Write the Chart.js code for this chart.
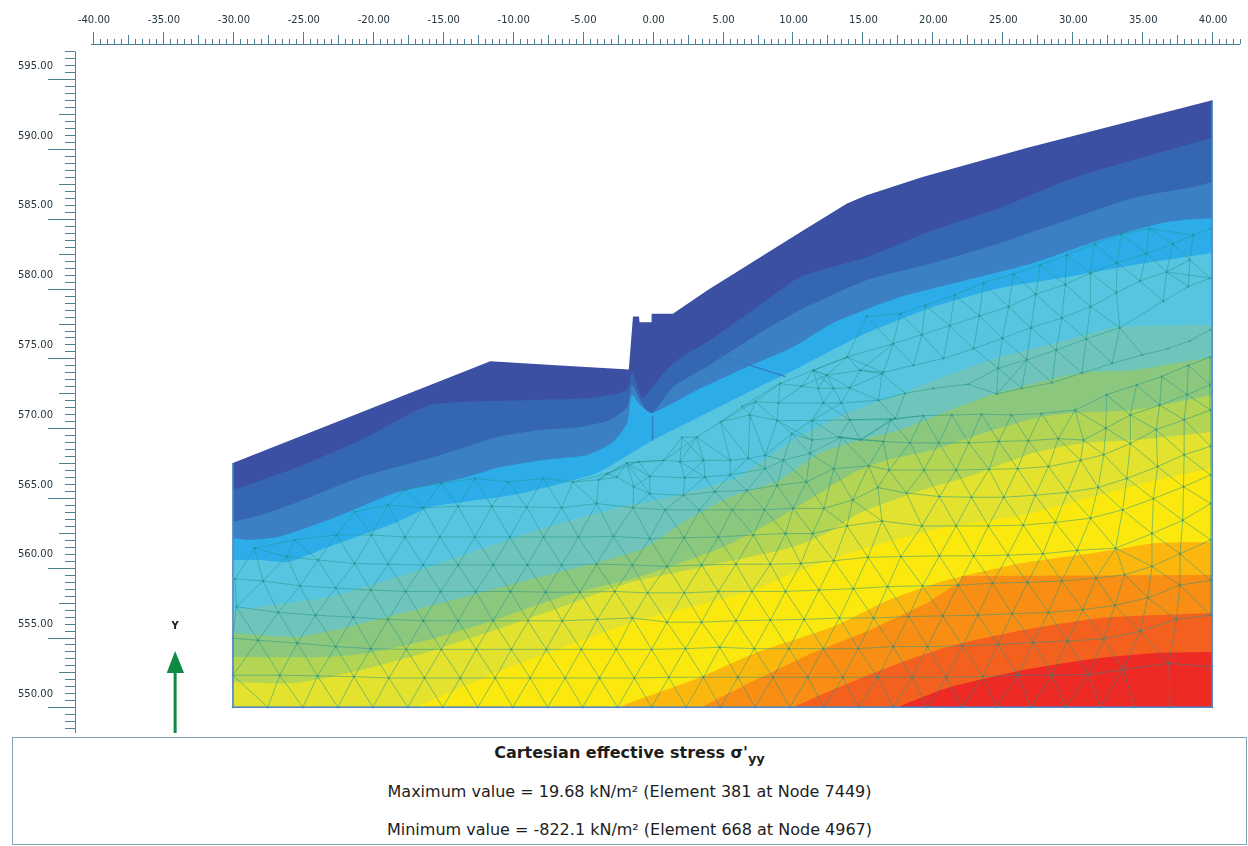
<!DOCTYPE html>
<html>
<head>
<meta charset="utf-8">
<title>Cartesian effective stress</title>
<script src="https://cdn.jsdelivr.net/npm/chart.js@4/dist/chart.umd.min.js"></script>
<style>
  html, body { margin: 0; padding: 0; background: #fff; }
  #wrap { position: relative; width: 1248px; height: 846px; overflow: hidden; }
  canvas { position: absolute; left: 0; top: 0; }
  #box { position: absolute; left: 12px; top: 737px; width: 1233px; height: 106px; border: 1.5px solid #7fa6b5; background: #fff; }
  #box div { position: absolute; left: 0; width: 100%; text-align: center; color: #1d1d1d; font-family: "DejaVu Sans", sans-serif; font-size: 16px; white-space: nowrap; }
  #box sub { font-size: 13px; vertical-align: -5px; line-height: 0; }
</style>
</head>
<body>
<div id="wrap">
  <canvas id="stressChart" width="1248" height="846"></canvas>
  <div id="box">
    <div style="top:5px;font-weight:bold">Cartesian effective stress σ'<sub>yy</sub></div>
    <div style="top:44px">Maximum value = 19.68 kN/m² (Element 381 at Node 7449)</div>
    <div style="top:82px">Minimum value = -822.1 kN/m² (Element 668 at Node 4967)</div>
  </div>
</div>
<script>
// axis ticks
const xTickValues = [-40, -35, -30, -25, -20, -15, -10, -5, 0, 5, 10, 15, 20, 25, 30, 35, 40];
const xTickLabels = ['-40.00', '-35.00', '-30.00', '-25.00', '-20.00', '-15.00', '-10.00', '-5.00', '0.00', '5.00', '10.00', '15.00', '20.00', '25.00', '30.00', '35.00', '40.00'];
const yTickValues = [595, 590, 585, 580, 575, 570, 565, 560, 555, 550];
const yTickLabels = ['595.00', '590.00', '585.00', '580.00', '575.00', '570.00', '565.00', '560.00', '555.00', '550.00'];

// ground surface, then the lower edge of each stress band
const surfaceX = [-30, -11.6, -6.6, -1.7, -1.4, -0.97, -0.93, -0.1, -0.07, 1.45, 3.95, 10.5, 13.9, 15.3, 19.3, 26.8, 40];
const surfaceY = [567.5, 574.8, 574.5, 574.2, 578, 578, 577.6, 577.6, 578.2, 578.2, 579.9, 584, 586.1, 586.7, 588, 590.1, 593.5];
const edge1X = [-30, -25.55, -20.84, -15.9, -8.76, -4.47, -1.82, -1.47, -0.75, -0.18, 1.47, 4.11, 7.68, 10.54, 15.33, 20.05, 24.84, 29.63, 34.35, 40];
const edge1Y = [565.57, 567.15, 569.15, 571.66, 572.02, 572.16, 572.74, 574.03, 572.16, 572.74, 574.67, 576.32, 578.83, 580.84, 582.27, 584.2, 585.78, 587.79, 589.22, 590.8];
const edge2X = [-30, -27.98, -25.55, -20.84, -15.9, -13.55, -11.12, -8.04, -5.18, -3.04, -1.82, -1.47, -0.89, -0.18, 1.47, 4.11, 7.68, 10.54, 15.33, 20.05, 24.84, 29.63, 34.35, 38.64, 40];
const edge2Y = [563.28, 563.78, 564.64, 566.5, 567.86, 568.58, 569.37, 569.87, 570.09, 570.59, 571.52, 573.1, 572.02, 570.95, 572.96, 574.54, 576.83, 578.47, 580.62, 581.84, 583.27, 584.92, 586.5, 587.28, 587.64];
const edge3X = [-30, -28.92, -26.77, -23.2, -18.41, -15.9, -13.55, -11.12, -7.83, -4.68, -2.82, -1.82, -1.47, -0.89, -0.04, 3.18, 6.75, 9.61, 10.54, 12.9, 17.69, 22.48, 27.2, 31.99, 36.78, 40];
const edge3Y = [562.13, 561.99, 562.2, 563.42, 565.36, 565.93, 566.43, 567.15, 567.72, 568.08, 569.01, 570.37, 572.38, 571.66, 571.09, 572.74, 574.39, 575.6, 576.1, 577.54, 579.4, 580.62, 581.84, 583.49, 584.78, 585.06];
const edge4X = [-30, -27.98, -26.05, -23.2, -18.41, -15.9, -13.55, -9.97, -6.4, -3.97, -2.32, 0.04, 2.47, 7.18, 10.54, 15.33, 20.05, 24.84, 29.63, 34.35, 40];
const edge4Y = [560.55, 560.55, 560.41, 561.49, 563.21, 564.35, 564.71, 565.21, 566.07, 566.79, 567.72, 569.15, 570.37, 572.74, 574.39, 576.83, 578.69, 580.05, 580.84, 581.7, 582.56];
const edge5X = [-30, -23.2, -16.05, -8.9, -2.32, 1.25, 6.04, 10.04, 13.9, 17.91, 20.77, 24.84, 29.63, 33.2, 40];
const edge5Y = [556.97, 557.9, 560.05, 562.49, 564.35, 565.07, 566.5, 569.15, 571.09, 572.52, 573.67, 575.1, 576.32, 577.25, 577.4];
const edge6X = [-30, -25.55, -22.7, -19.84, -16.98, -8.9, -0.89, 2.47, 5.54, 9.11, 11.97, 14.83, 17.69, 21.27, 24.62, 30.56, 34.35, 40];
const edge6Y = [555.32, 555.04, 555.54, 556.26, 556.97, 559.12, 561.27, 563.42, 565.07, 566.29, 568.22, 569.15, 569.87, 571.3, 572.52, 573.96, 574.17, 575.1];
const edge7X = [-30, -23.2, -20.34, -16.05, -11.26, -6.54, -0.54, 5.04, 8.4, 11.97, 14.33, 16.76, 20.05, 24.34, 27.7, 30.06, 34.35, 40];
const edge7Y = [553.6, 553.6, 553.89, 554.82, 556.26, 557.9, 559.48, 561.49, 563.21, 565.36, 566.79, 567.72, 568.44, 569.87, 570.8, 571.09, 571.3, 572.38];
const edge8X = [-30, -25.55, -20.84, -16.05, -11.26, -6.54, -1.75, 4.61, 10.04, 12.47, 14.83, 18.62, 22.91, 27.2, 30.77, 34.35, 40];
const edge8Y = [551.81, 551.74, 552.67, 553.96, 555.54, 557.19, 558.91, 560.27, 561.49, 562.49, 563.92, 565.36, 566.65, 568.22, 568.94, 569.15, 569.73];
const edge9X = [-16.98, -11.26, -6.54, -2.97, -0.89, 7.33, 10.04, 14.83, 19.12, 21.05, 26.48, 31.99, 36.06, 40];
const edge9Y = [550, 552.46, 554.25, 555.54, 556.26, 558.41, 559.62, 561.27, 562.49, 562.92, 563.78, 565.21, 566.29, 567.15];
const edge10X = [-2.39, -0.89, 3.47, 7.33, 12.83, 16.9, 21.05, 26.48, 31.99, 36.06, 40];
const edge10Y = [550, 550.59, 552.17, 553.89, 555.75, 557.69, 559.12, 560.34, 561.13, 561.77, 561.85];
const edge11X = [3.47, 7.33, 11.4, 15.55, 19.62, 21.98, 22.12, 40];
const edge11Y = [550, 551.96, 553.89, 555.54, 557.47, 558.98, 559.41, 559.48];
const edge12X = [10.04, 12.83, 16.9, 21.05, 26.48, 31.99, 36.06, 40];
const edge12Y = [550, 551.24, 552.89, 554.32, 555.54, 556.4, 556.61, 556.76];
const edge13X = [17.48, 21.05, 26.48, 31.99, 36.06, 40];
const edge13Y = [550, 551.38, 552.67, 553.53, 553.89, 553.96];

const bandColors = ['#3b4fa3', '#3566b1', '#3a80c3', '#2cadea', '#57c5e0', '#6fc5bb', '#8cc77e', '#b4d453', '#e2e22f', '#fbe80f', '#fcb70f', '#f98e14', '#f4611f', '#ee2a24'];

// mesh nodes read row by row, bottom to top
const meshRow0 = [[-30,550],[-27.5,550],[-25,550],[-22.5,550],[-20,550],[-17.5,550],[-15,550],[-12.5,550],[-10,550],[-7.5,550],[-5,550],[-2.5,550],[-0.07,550],[2.4,550],[4.86,550],[7.33,550],[9.8,550],[12.26,550],[14.72,550],[17.19,550],[19.65,550],[22.1,550],[24.58,550],[27.05,550],[29.5,550],[32,550],[34.45,550],[37,550],[40,550]];
const meshRow1 = [[-30,552.3],[-26.65,552.3],[-23.95,552.25],[-21.35,552.2],[-18.85,552.1],[-16.3,552.1],[-13.75,552.1],[-11.25,552.1],[-8.75,552.1],[-6.25,552.1],[-3.8,552.1],[-1.3,552.1],[1.16,552.15],[3.63,552.15],[6.1,552.15],[8.6,552.15],[11.1,552.15],[13.6,552.15],[16.1,552.15],[18.55,552.15],[21,552.15],[23.6,552.2],[26.1,552.3],[28.55,552.3],[31.15,552.35],[33.65,552.7],[36.9,553.15],[40,552.9]];
const meshRow2 = [[-30,554.95],[-28.2,554.8],[-25.4,554.6],[-22.65,554.35],[-20.15,554.2],[-17.6,554.15],[-15.1,554.15],[-12.6,554.15],[-10.1,554.15],[-7.6,554.15],[-5.1,554.15],[-2.6,554.15],[-0.07,554.15],[2.34,554.2],[4.8,554.3],[7.27,554.2],[9.74,554.2],[12.2,554.2],[14.7,554.2],[17.2,554.35],[19.65,554.35],[22.17,554.4],[24.7,554.5],[27.2,554.65],[29.65,554.75],[32.25,554.9],[34.85,555.45],[37.45,556.3],[39.9,556.6]];
const meshRow3 = [[-29.75,557.2],[-26.75,556.8],[-24.1,556.6],[-21.4,556.45],[-18.9,556.3],[-16.4,556.2],[-13.9,556.2],[-11.4,556.2],[-8.9,556.2],[-6.45,556.2],[-3.95,556.3],[-1.45,556.4],[1.03,556.1],[3.5,556.1],[5.96,556.2],[8.42,556.25],[10.83,556.3],[13.35,556.4],[15.8,556.4],[18.3,556.5],[20.75,556.55],[23.25,556.6],[25.7,556.7],[28.3,556.8],[30.75,557],[33.05,557.3],[35.4,557.85],[37.7,558.75],[39.9,559.1]];
const meshRow4 = [[-29.85,559.2],[-27.85,559.05],[-25.2,558.7],[-22.65,558.55],[-20.15,558.4],[-17.65,558.3],[-15.15,558.3],[-12.65,558.3],[-10.15,558.3],[-7.65,558.25],[-5.2,558.25],[-2.7,558.3],[-0.35,558.2],[2.26,558.2],[4.7,558.3],[7.1,558.3],[9.5,558.3],[11.9,558.4],[14.35,558.5],[16.8,558.65],[19.3,558.7],[21.85,558.75],[24.3,558.9],[26.8,558.95],[29.25,559.05],[31.7,559.25],[33.75,559.5],[35.7,560.1],[37.7,561],[39.9,562]];
const meshRow5 = [[-28.45,561.4],[-26.15,560.8],[-23.9,560.55],[-21.3,560.3],[-18.9,560.25],[-16.4,560.2],[-13.9,560.2],[-11.4,560.2],[-8.95,560.2],[-6.5,560.2],[-4,560.25],[-1.45,560.2],[1.03,560.1],[3.5,560.2],[5.96,560.25],[8.42,560.25],[10.6,560.3],[12.95,560.5],[15.4,560.75],[17.75,560.8],[20.5,560.85],[22.95,560.85],[25.4,560.9],[27.9,561],[30.35,561.25],[33.1,561.4],[35.7,562.45],[37.9,563.4],[39.9,564.6]];
const meshRow6 = [[-25.6,562],[-22.6,562.35],[-20.1,562.35],[-17.7,562.2],[-15.2,562.2],[-12.7,562.2],[-10.2,562.2],[-7.8,562.2],[-5.3,562.2],[-2.8,562.25],[-0.2,562.1],[2.26,562.15],[4.7,562.2],[7.2,562.35],[9.5,562.45],[11.45,562.45],[13.9,563],[16.4,563.35],[19.25,563],[21.7,563],[24,563],[26.5,563.05],[28.8,563.25],[31.3,563.55],[33.6,564.15],[35.8,564.95],[37.95,565.8],[39.9,566.65]];
const meshRow7 = [[-21.3,564],[-18.9,564.5],[-16.4,564.3],[-13.9,564.4],[-11.5,564.4],[-9,564.35],[-6.5,564.3],[-4,564.6],[-1.4,564.3],[0.9,564.15],[3.35,564.15],[5.7,564.15],[8,564.15],[10.05,564.25],[12.25,564.25],[14.3,564.85],[16.1,565.75],[18.15,565.35],[20.5,565.1],[22.8,565.05],[25.1,565.05],[27.35,565.2],[29.65,565.4],[31.85,565.75],[33.9,566.4],[36.1,567.25],[38,568.1],[39.9,568.7]];
const meshRow8 = [[-17.7,565.6],[-15.1,566.05],[-12.7,566.4],[-10.3,566.15],[-7.8,566.4],[-5.7,566.15],[-3.85,566.3],[-2.55,566.5],[-1.35,565.8],[-0.2,565.3],[2.2,565.2],[4.45,565.45],[6.75,565.55],[8.9,565.9],[11,566.15],[12.95,567.1],[15.45,567.3],[16.9,567],[19.4,567],[21.7,567],[24.05,567.05],[26.1,567.1],[28.3,567.25],[30.6,567.7],[32.25,568.1],[34.15,568.9],[36,569.9],[38,570.6],[39.9,571.3]];
const meshRow9 = [[-3.25,566.75],[-1.85,567.5],[-0.2,566.55],[2.3,566.45],[3.75,566.5],[5.55,566.65],[8.05,567.1],[9.35,567.7],[11.25,568.2],[13.5,569.35],[16.5,569.05],[18.4,568.95],[20.45,568.95],[22.6,568.95],[24.75,569.05],[26.85,569.1],[29,569.25],[30.8,569.15],[32.4,570],[34.15,570.95],[36.25,571.65],[38.2,572.4],[39.85,573.1]];
const meshRow10 = [[-1,567.6],[0.8,567.7],[1.95,567.6],[3.65,567.7],[5.55,567.7],[6.85,567.85],[8.05,568.05],[9.95,569.6],[11.4,569.15],[13.3,569.35],[14.85,569.15],[17,570.6],[19.35,570.9],[21.4,570.95],[23.5,571],[25.65,570.95],[27.8,571.05],[30.2,571.3],[32.45,572.4],[34.6,573.1],[36.4,573.7],[38.3,574.5],[39.85,575.1]];
const meshRow11 = [[2.1,569.35],[3.15,569.35],[4.85,570.45],[6.95,570.95],[8.9,570.55],[11.4,570.55],[14.1,570.6],[17.35,570.7]];
const meshRow12 = [[6.4,571.55],[7.35,571.9],[9,571.8],[12.2,571.8],[13.5,571.8],[16.15,572],[18.05,572.5],[20.05,572.85],[22.55,573.15],[24.6,572.45],[26.4,572.85],[28.55,573.25],[30.7,573.95],[32.85,574.65],[35,575.25],[36.85,575.7],[38.4,576.25],[39.85,577.05]];
const meshRow13 = [[9.1,573.2],[10.65,573],[11.85,572.85],[12.95,572.85],[14.1,572.9],[16.4,573.9],[24.7,574.3],[26.75,574.9],[28.85,575.6],[31,576.4],[33.4,577.2],[36.5,579.1],[38.3,580.15],[39.85,580.75]];
const meshRow14 = [[11.5,574.15],[12.45,573.8],[14.85,574.15],[16.5,574],[18.65,574.5],[20.8,575],[22.95,575.7],[25,576.45],[27.05,577.2],[29.25,577.9],[31.3,578.7],[33.15,579.7],[34.85,580.55],[36.75,581.2],[38.4,582.05]];
const meshRow15 = [[11.5,574.15],[13.9,575.1],[17.2,576.05],[19.25,576.7],[21.25,577.35],[23.35,578.05],[25.45,578.7],[27.4,579.6],[29.5,580.3],[31.3,581.1],[33.2,581.85],[35.3,582.5],[37.2,583.2],[38.65,583.85],[39.9,584.3]];
const meshRow16 = [[15.3,578],[17.7,578.2],[19.5,578.8],[21.6,579.55],[23.65,580.4],[25.8,581.05],[27.7,581.7],[29.6,582.4],[31.6,583.2],[33.5,583.9],[35.5,584.3]];
const meshRows = [meshRow0, meshRow1, meshRow2, meshRow3, meshRow4, meshRow5, meshRow6, meshRow7, meshRow8, meshRow9, meshRow10, meshRow11, meshRow12, meshRow13, meshRow14, meshRow15, meshRow16];

// seams in the retaining wall area
const seamX = [4.8, 9.5];
const seamY = [575.2, 573.7];
const wallLineX = [0, 0];
const wallLineY = [570.9, 569.1];

// model border
const borderX = [-30, -30, 40, 40];
const borderY = [567.5, 550, 550, 593.5];

// global Y arrow
const arrowShaftX = [-34.13, -34.13];
const arrowShaftY = [548.16, 552.67];
const arrowHeadX = [-34.73, -34.13, -33.49];
const arrowHeadY = [552.45, 554.03, 552.45];

function toPoints(xs, ys) {
    return xs.map((x, i) => ({ x: x, y: ys[i] }));
}

// row lines plus the diagonals to the closest nodes of the next row
function meshLines() {
    const pts = [];
    const gap = { x: NaN, y: NaN };
    meshRows.forEach((row, r) => {
        row.forEach((n, i) => {
            if (i > 0 && Math.hypot(n[0] - row[i - 1][0], n[1] - row[i - 1][1]) > 4.5) pts.push(gap);
            pts.push({ x: n[0], y: n[1] });
        });
        pts.push(gap);
        const next = meshRows[r + 1];
        if (!next) return;
        row.forEach(n => {
            const near = next
                .map(m => ({ m: m, d: Math.hypot(m[0] - n[0], m[1] - n[1]) }))
                .filter(o => o.d < 3.4)
                .sort((a, b) => a.d - b.d)
                .slice(0, 2);
            near.forEach(o => {
                pts.push({ x: n[0], y: n[1] }, { x: o.m[0], y: o.m[1] }, gap);
            });
        });
    });
    return pts;
}

function band(xs, ys, color, order, tension) {
    return {
        data: toPoints(xs, ys), showLine: true, pointRadius: 0, borderWidth: 0,
        borderColor: color, backgroundColor: color, fill: { value: 550 }, order: order, tension: tension
    };
}

function line(xs, ys, color, width, order) {
    return {
        data: toPoints(xs, ys), showLine: true, pointRadius: 0, borderWidth: width,
        borderColor: color, fill: false, order: order
    };
}

const datasets = [
    band(surfaceX, surfaceY, bandColors[0], 40, 0),
    band(edge1X, edge1Y, bandColors[1], 39, 0.2),
    band(edge2X, edge2Y, bandColors[2], 38, 0.2),
    band(edge3X, edge3Y, bandColors[3], 37, 0.2),
    band(edge4X, edge4Y, bandColors[4], 36, 0.2),
    band(edge5X, edge5Y, bandColors[5], 35, 0.2),
    band(edge6X, edge6Y, bandColors[6], 34, 0.2),
    band(edge7X, edge7Y, bandColors[7], 33, 0.2),
    band(edge8X, edge8Y, bandColors[8], 32, 0.2),
    band(edge9X, edge9Y, bandColors[9], 31, 0.2),
    band(edge10X, edge10Y, bandColors[10], 30, 0.2),
    band(edge11X, edge11Y, bandColors[11], 29, 0),
    band(edge12X, edge12Y, bandColors[12], 28, 0.2),
    band(edge13X, edge13Y, bandColors[13], 27, 0.2),
    {
        data: meshLines(), showLine: true, pointRadius: 0, borderWidth: 1,
        borderColor: 'rgba(30,150,140,0.5)', fill: false, spanGaps: false, order: 10
    },
    {
        data: meshRows.flat().map(n => ({ x: n[0], y: n[1] })), showLine: false, pointRadius: 1.2, borderWidth: 0,
        backgroundColor: 'rgba(25,125,115,0.4)', order: 9
    },
    line(seamX, seamY, '#3a78c0', 1.2, 8),
    line(wallLineX, wallLineY, '#3a78c0', 1.5, 8),
    line(borderX, borderY, '#4f86c6', 1.5, 7),
    line(arrowShaftX, arrowShaftY, '#0f8a45', 3, 6),
    {
        data: toPoints(arrowHeadX, arrowHeadY), showLine: true, pointRadius: 0, borderWidth: 0,
        backgroundColor: '#0f8a45', fill: { value: 552.45 }, order: 5
    }
];

// ruler style axes: long, medium and short marks, drawn through the scales
const rulerPlugin = {
    id: 'ruler',
    afterDatasetsDraw(chart) {
        const ctx = chart.ctx;
        const sx = chart.scales.x;
        const sy = chart.scales.y;
        const xAxisY = chart.chartArea.top;
        const yAxisX = chart.chartArea.left;
        ctx.save();
        ctx.strokeStyle = '#4d8295';
        ctx.lineWidth = 1;
        ctx.beginPath();
        ctx.moveTo(sx.getPixelForValue(-40.14), xAxisY + 0.5);
        ctx.lineTo(sx.getPixelForValue(42), xAxisY + 0.5);
        ctx.moveTo(yAxisX + 0.5, sy.getPixelForValue(597));
        ctx.lineTo(yAxisX + 0.5, sy.getPixelForValue(548.16));
        for (let i = 0; i <= 164; i++) {
            const v = -40 + i * 0.5;
            const px = Math.round(sx.getPixelForValue(v)) + 0.5;
            const len = i % 10 === 0 ? 12 : (i % 5 === 0 ? 9 : 5);
            ctx.moveTo(px, xAxisY);
            ctx.lineTo(px, xAxisY - len);
        }
        for (let i = 0; i <= 97; i++) {
            const v = 597 - i * 0.5;
            const py = Math.round(sy.getPixelForValue(v)) + 0.5;
            const k = Math.round((597 - v) * 2);
            const len = (k - 4) % 10 === 0 ? 27 : ((k - 4) % 5 === 0 ? 16 : 10);
            ctx.moveTo(yAxisX, py);
            ctx.lineTo(yAxisX - len, py);
        }
        ctx.stroke();
        ctx.fillStyle = '#222';
        ctx.font = 'bold 10px "DejaVu Sans"';
        ctx.textAlign = 'center';
        ctx.textBaseline = 'middle';
        ctx.fillText('Y', sx.getPixelForValue(arrowShaftX[0]), sy.getPixelForValue(555.8));
        ctx.restore();
    }
};

new Chart(document.getElementById('stressChart').getContext('2d'), {
    type: 'scatter',
    data: { datasets: datasets },
    plugins: [rulerPlugin],
    options: {
        responsive: false,
        animation: false,
        layout: { padding: { left: 0, top: 0, right: 8, bottom: 113 } },
        plugins: { legend: { display: false }, tooltip: { enabled: false }, title: { display: false } },
        scales: {
            x: {
                type: 'linear',
                position: 'top',
                min: -41.287,
                max: 41.99,
                afterBuildTicks: s => { s.ticks = xTickValues.map(v => ({ value: v })); },
                afterFit: s => { s.height = 44; },
                grid: { display: false },
                border: { display: false },
                ticks: {
                    autoSkip: false, maxRotation: 0, padding: 10, labelOffset: 1,
                    color: '#24343e', font: { family: 'DejaVu Sans', size: 10 },
                    callback: v => xTickLabels[xTickValues.indexOf(v)]
                }
            },
            y: {
                type: 'linear',
                position: 'left',
                min: 548.158,
                max: 597.53,
                afterBuildTicks: s => { s.ticks = yTickValues.map(v => ({ value: v })); },
                afterFit: s => { s.width = 75; },
                grid: { display: false },
                border: { display: false },
                ticks: {
                    autoSkip: false, padding: 14, labelOffset: -13,
                    color: '#24343e', font: { family: 'DejaVu Sans', size: 10 },
                    callback: v => yTickLabels[yTickValues.indexOf(v)]
                }
            }
        }
    }
});
</script>
</body>
</html>
